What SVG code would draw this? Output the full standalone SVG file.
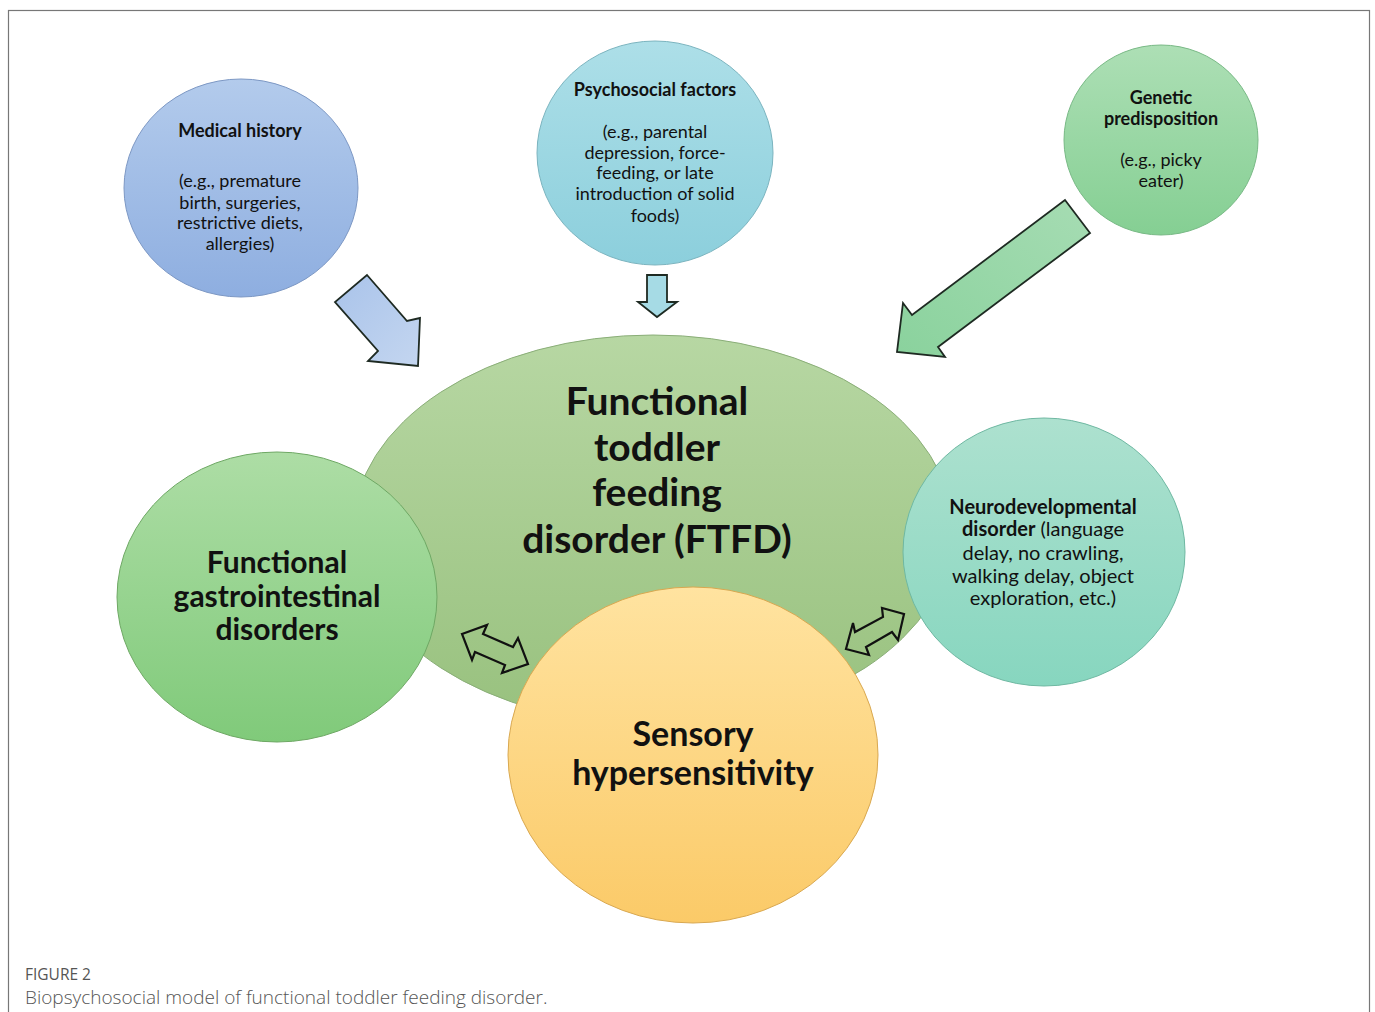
<svg xmlns="http://www.w3.org/2000/svg" width="1375" height="1012" viewBox="0 0 1375 1012">
<defs>
<linearGradient id="gBlue" x1="0" y1="0" x2="0" y2="1"><stop offset="0" stop-color="#b3cbec"/><stop offset="1" stop-color="#8eaee0"/></linearGradient>
<linearGradient id="gCyan" x1="0" y1="0" x2="0" y2="1"><stop offset="0" stop-color="#addfe8"/><stop offset="1" stop-color="#8ccfdc"/></linearGradient>
<linearGradient id="gGen" x1="0" y1="0" x2="0" y2="1"><stop offset="0" stop-color="#addfb5"/><stop offset="1" stop-color="#85cf93"/></linearGradient>
<linearGradient id="gFtfd" x1="0" y1="0" x2="0" y2="1"><stop offset="0" stop-color="#b7d7a3"/><stop offset="1" stop-color="#98c17e"/></linearGradient>
<linearGradient id="gGi" x1="0" y1="0" x2="0" y2="1"><stop offset="0" stop-color="#addda5"/><stop offset="1" stop-color="#80ca7a"/></linearGradient>
<linearGradient id="gNeu" x1="0" y1="0" x2="0" y2="1"><stop offset="0" stop-color="#ade1cf"/><stop offset="1" stop-color="#87d6bf"/></linearGradient>
<linearGradient id="gSen" x1="0" y1="0" x2="0" y2="1"><stop offset="0" stop-color="#ffe3a0"/><stop offset="1" stop-color="#fbca68"/></linearGradient>
<linearGradient id="gArB" x1="0" y1="0" x2="1" y2="1"><stop offset="0" stop-color="#a9c3ea"/><stop offset="1" stop-color="#c4d6f0"/></linearGradient>
<linearGradient id="gArG" x1="1" y1="0" x2="0" y2="1"><stop offset="0" stop-color="#a6dcb3"/><stop offset="1" stop-color="#8ad29d"/></linearGradient>
</defs>
<style>
.t{font-family:Lato,"Open Sans",sans-serif;fill:#111;text-anchor:middle}
.b{font-weight:bold}
.s{font-size:18px}
.n{font-size:20px}
.arr{stroke:#1e2a22;stroke-width:1.8;stroke-linejoin:miter}
.dbl{fill:none;stroke:#111;stroke-width:2.2;stroke-linejoin:miter}
.cap{font-family:"Open Sans",Lato,sans-serif;fill:#555}
</style>
<rect x="8.5" y="10.5" width="1361" height="1020" fill="#fff" stroke="#777" stroke-width="1.2"/>

<g id="ftfd">
<ellipse cx="653" cy="530" rx="300" ry="195" fill="url(#gFtfd)" stroke="#8aae78" stroke-width="1"/>
<text class="t b" font-size="39" x="657" y="415">Functional</text>
<text class="t b" font-size="39" x="657" y="461">toddler</text>
<text class="t b" font-size="39" x="657" y="506">feeding</text>
<text class="t b" font-size="39" x="657" y="553">disorder (FTFD)</text>
</g>

<g id="medical">
<ellipse cx="241" cy="188" rx="117" ry="109" fill="url(#gBlue)" stroke="#7d98c4" stroke-width="1"/>
<text class="t b s" x="240" y="137">Medical history</text>
<text class="t s" x="240" y="187">(e.g., premature</text>
<text class="t s" x="240" y="209">birth, surgeries,</text>
<text class="t s" x="240" y="229">restrictive diets,</text>
<text class="t s" x="240" y="250">allergies)</text>
</g>

<g id="psychosocial">
<ellipse cx="655" cy="153" rx="118" ry="112" fill="url(#gCyan)" stroke="#7bb4bf" stroke-width="1"/>
<text class="t b s" x="655" y="96">Psychosocial factors</text>
<text class="t s" x="655" y="138">(e.g., parental</text>
<text class="t s" x="655" y="159">depression, force-</text>
<text class="t s" x="655" y="179">feeding, or late</text>
<text class="t s" x="655" y="200">introduction of solid</text>
<text class="t s" x="655" y="222">foods)</text>
</g>

<g id="genetic">
<ellipse cx="1161" cy="140" rx="97" ry="95" fill="url(#gGen)" stroke="#78b985" stroke-width="1"/>
<text class="t b s" x="1161" y="104">Genetic</text>
<text class="t b s" x="1161" y="125">predisposition</text>
<text class="t s" x="1161" y="166">(e.g., picky</text>
<text class="t s" x="1161" y="187">eater)</text>
</g>

<g id="gi">
<ellipse cx="277" cy="597" rx="160" ry="145" fill="url(#gGi)" stroke="#6ea864" stroke-width="1"/>
<text class="t b" font-size="30" x="277" y="573">Functional</text>
<text class="t b" font-size="30" x="277" y="607">gastrointestinal</text>
<text class="t b" font-size="30" x="277" y="640">disorders</text>
</g>

<g id="neuro">
<ellipse cx="1044" cy="552" rx="141" ry="134" fill="url(#gNeu)" stroke="#6fb8a2" stroke-width="1"/>
<text class="t b n" x="1043" y="514">Neurodevelopmental</text>
<text class="t n" x="1043" y="536"><tspan font-weight="bold">disorder</tspan> (language</text>
<text class="t n" x="1043" y="560">delay, no crawling,</text>
<text class="t n" x="1043" y="583">walking delay, object</text>
<text class="t n" x="1043" y="605">exploration, etc.)</text>
</g>

<g id="sensory">
<ellipse cx="693" cy="755" rx="185" ry="168" fill="url(#gSen)" stroke="#d9a850" stroke-width="1"/>
<text class="t b" font-size="34" x="693" y="746">Sensory</text>
<text class="t b" font-size="34" x="693" y="785">hypersensitivity</text>
</g>

<g id="connectors">
<polygon class="arr" fill="url(#gArB)" points="367,275 407,321 420,318 418,366 368,361 378,351 335,302"/>
<polygon class="arr" fill="#a6dbe5" points="647,275 667,275 667,302 677,302 657,317 638,302 647,302"/>
<polygon class="arr" fill="url(#gArG)" points="1065,200 1090,233 938,347 945,357 897,352 903,303 912,315"/>
<polygon class="dbl" points="462,634 487,625 483,634 513,647 518,638 528,664 502,673 505,665 475,652 472,660"/>
<polygon class="dbl" points="904,614 882,608 883,617 855,632 853,623 846,649 869,655 866,647 892,632 898,640"/>
</g>

<text class="cap" x="25" y="980" font-size="15.5">FIGURE 2</text>
<text class="cap" x="25" y="1004" font-size="19" font-weight="300">Biopsychosocial model of functional toddler feeding disorder.</text>
</svg>
